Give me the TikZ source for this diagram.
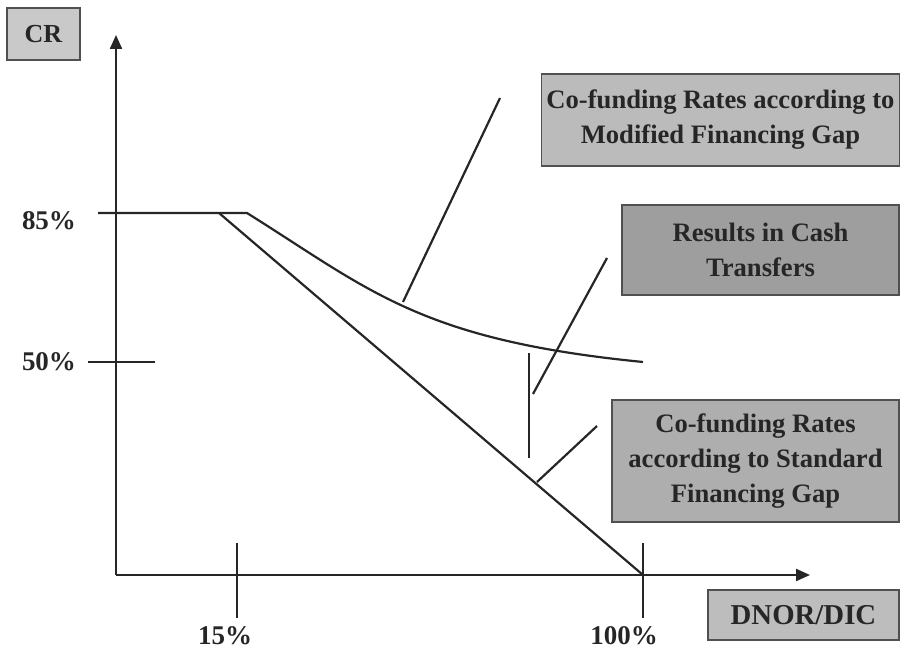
\documentclass[tikz,border=0pt]{standalone}
\usepackage{fontspec}
\setmainfont{Liberation Serif}
\usepackage{tikz}
\usetikzlibrary{arrows.meta,positioning}
\definecolor{linec}{HTML}{262626}
\definecolor{edgec}{HTML}{505050}
\definecolor{crbg}{HTML}{C9C9C9}
\definecolor{modbg}{HTML}{BBBBBB}
\definecolor{cashbg}{HTML}{9E9E9E}
\definecolor{stdbg}{HTML}{AEAEAE}
\definecolor{dnbg}{HTML}{BDBDBD}
\tikzset{
  ax/.style={-{Triangle[length=7pt,width=6pt]},line width=1.1pt,linec},
  ln/.style={line width=1.1pt,linec},
  box/.style={draw=edgec,line width=0.9pt,align=center,inner sep=2pt,text=linec,font=\fontsize{13.3}{17.5}\selectfont\bfseries},
  lab/.style={font=\fontsize{13.5}{15}\selectfont\bfseries,text=linec,inner sep=0.5pt}
}
\begin{document}
\begin{tikzpicture}[x=0.5pt,y=-0.5pt]
\useasboundingbox (0,0) rectangle (901,651);
% axes
\coordinate (o) at (116,575);
\coordinate (ytip) at (116,35);
\coordinate (xtip) at (810,575);
\draw[ax] (o)--(ytip);
\draw[ax] (o)--(xtip);
% ticks
\coordinate (t85) at (98,213);
\coordinate (k1) at (219,213);
\coordinate (k2) at (247,213);
\coordinate (t50a) at (88,362);
\coordinate (t50b) at (155,362);
\coordinate (t15a) at (237,543);
\coordinate (t15b) at (237,618);
\coordinate (t100a) at (643,543);
\coordinate (t100b) at (643,618);
\coordinate (e50) at (643,362);
\draw[ln] (t50a)--(t50b);
\draw[ln] (t15a)--(t15b);
\draw[ln] (t100a)--(t100b);
% rate curves
\draw[ln] (t85)--(k2) .. controls (370,290) and (420,340) .. (e50);
\draw[ln] (k1)--(643,575);
% labels
\node[lab] (l85) at (49,221) {85\%};
\node[lab] (l50) at (49,362) {50\%};
\node[lab] (l15) at (225,636) {15\%};
\node[lab] (l100) at (624,636) {100\%};
% boxes
\node[box,fill=crbg,minimum width=36.5pt,minimum height=26pt,font=\fontsize{13}{15}\selectfont\bfseries] (cr) at (43.5,34) {CR};
\node[box,fill=modbg,minimum width=179pt,minimum height=46pt] (mod) at (720.5,120) {Co-funding Rates according to\\Modified Financing Gap};
\node[box,fill=cashbg,minimum width=138.5pt,minimum height=45pt] (cash) at (760.5,250) {Results in Cash\\Transfers};
\node[box,fill=stdbg,minimum width=143.5pt,minimum height=61pt] (std) at (755.5,461) {Co-funding Rates\\according to Standard\\Financing Gap};
\node[box,fill=dnbg,minimum width=95.5pt,minimum height=25pt,font=\fontsize{14.4}{16}\selectfont\bfseries] (dn) at (803.5,615) {DNOR/DIC};
% callouts
\coordinate (c1a) at (403,302);
\coordinate (c1b) at (500,98);
\coordinate (c2a) at (533,394);
\coordinate (c2b) at (607,258);
\coordinate (v1) at (529,353);
\coordinate (v2) at (529,458);
\coordinate (c3a) at (537,482);
\coordinate (c3b) at (597,426);
\draw[ln] (c1a)--(c1b);
\draw[ln] (c2a)--(c2b);
\draw[ln] (v1)--(v2);
\draw[ln] (c3a)--(c3b);
\end{tikzpicture}
\end{document}
